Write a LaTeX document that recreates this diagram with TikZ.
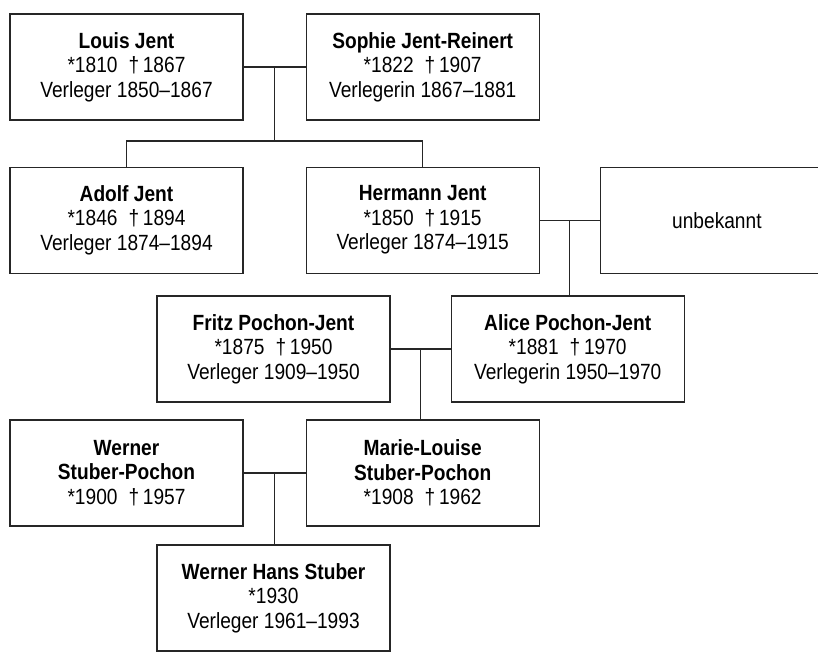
\documentclass[tikz,border=0pt]{standalone}
\usepackage{fontspec}
\setmainfont{Liberation Sans}[FakeStretch=0.87]
\usetikzlibrary{positioning}

\begin{document}
\begin{tikzpicture}[
  x=1pt, y=1pt,
  node distance=46pt and 62pt,
  person/.style={rectangle, draw=black!85, line width=1.2pt, fill=white,
                 minimum width=233pt, minimum height=106pt, inner sep=0pt,
                 align=center, font=\fontsize{22}{24.5}\selectfont},
  link/.style={draw=black!85, line width=1.2pt}
]
\useasboundingbox (0,0) rectangle (818,-651);

% first generation
\node[person] (louis) at (126.5,-67) {\textbf{Louis Jent}\\{*}1810\enspace†\,1867\\Verleger 1850–1867};
\node[person, right=of louis] (sophie) {\textbf{Sophie Jent-Reinert}\\{*}1822\enspace†\,1907\\Verlegerin 1867–1881};

% second generation
\node[person, below=of louis] (adolf) {\textbf{Adolf Jent}\\{*}1846\enspace†\,1894\\Verleger 1874–1894};
\node[person, below=of sophie] (hermann) {\textbf{Hermann Jent}\\{*}1850\enspace†\,1915\\Verleger 1874–1915};
\node[person, right=60pt of hermann] (unknown) {unbekannt};

% third generation
\node[person] (fritz) at (273.5,-349) {\textbf{Fritz Pochon-Jent}\\{*}1875\enspace†\,1950\\Verleger 1909–1950};
\node[person, right=60pt of fritz] (alice) {\textbf{Alice Pochon-Jent}\\{*}1881\enspace†\,1970\\Verlegerin 1950–1970};

% fourth generation
\node[person] (werner) at (126.5,-473) {\textbf{Werner}\\\textbf{Stuber-Pochon}\\{*}1900\enspace†\,1957};
\node[person, right=of werner] (marie) {\textbf{Marie-Louise}\\\textbf{Stuber-Pochon}\\{*}1908\enspace†\,1962};

% fifth generation
\node[person] (hans) at (273.5,-598) {\textbf{Werner Hans Stuber}\\{*}1930\\Verleger 1961–1993};

% couples and children
\draw[link] (louis) -- (sophie) coordinate[midway] (m1);
\draw[link] (m1) -- ++(0,-74) coordinate (j1);
\draw[link] (adolf.north) |- (j1) -| (hermann.north);

\draw[link] (hermann) -- (unknown) coordinate[midway] (m2);
\draw[link] (m2) -- (m2 |- alice.north);

\draw[link] (fritz) -- (alice) coordinate[midway] (m3);
\draw[link] (m3) -- (m3 |- marie.north);

\draw[link] (werner) -- (marie) coordinate[midway] (m4);
\draw[link] (m4) -- (m4 |- hans.north);

\end{tikzpicture}
\end{document}
